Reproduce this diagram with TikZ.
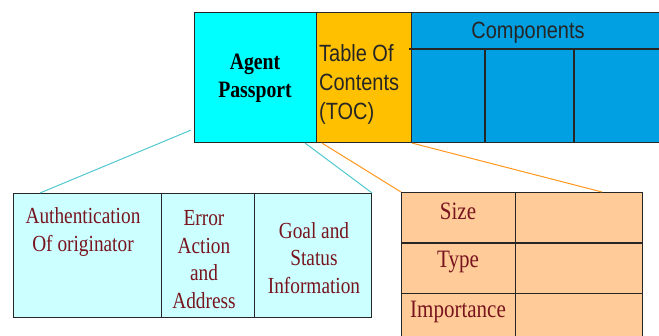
\documentclass[tikz,border=0pt]{standalone}
\usepackage{fontspec}
\setmainfont{Liberation Serif}[FakeStretch=0.84]
\setsansfont{Liberation Sans}[FakeStretch=0.85]
\usetikzlibrary{positioning}
\definecolor{passcyan}{RGB}{0,255,255}
\definecolor{tocgold}{RGB}{255,192,0}
\definecolor{compblue}{RGB}{0,160,226}
\definecolor{palecyan}{RGB}{204,255,255}
\definecolor{peach}{RGB}{255,204,153}
\definecolor{maroon}{RGB}{120,20,30}
\definecolor{linkcyan}{RGB}{80,200,205}
\definecolor{linkorange}{RGB}{255,150,30}

\begin{document}
\begin{tikzpicture}[x=1pt, y=-1pt,
		cell/.style={draw=black!85, line width=1.1pt, inner sep=0pt, anchor=north west},
		red text/.style={text=maroon, align=center, inner sep=0pt, font=\fontsize{23}{27.5}\selectfont},
		blue text/.style={text=black!85, inner sep=0pt, font=\sffamily\fontsize{23.5}{29}\selectfont},
		cyanlink/.style={draw=linkcyan, line width=1pt},
		orangelink/.style={draw=linkorange, line width=1pt}]
				\useasboundingbox (0,0) rectangle (659,336);
				\clip (0,0) rectangle (659,336);
				% passport header
				\node[cell, fill=passcyan, minimum width=122, minimum height=130] (pass) at (194,12) {};
				\node[cell, fill=tocgold, minimum width=95, minimum height=130] (toc) at (316,12) {};
				\node[cell, fill=compblue, minimum width=252, minimum height=130] (comp) at (411,12) {};
				\draw[draw=black!85, line width=1.1pt] (409,49) -- (664,49) (485,49) -- (485,142) (574,49) -- (574,142);
				\node[inner sep=0pt, font=\bfseries\fontsize{23.5}{28}\selectfont, align=center] (passtxt) at (255,78) {Agent\\Passport};
				\node[blue text, anchor=west, align=left] (toctxt) at (319,84) {Table Of\\Contents\\(TOC)};
				\node[blue text] (comptxt) at (528,33) {Components};
				% passport fields
				\node[cell, fill=palecyan, minimum width=148, minimum height=124] (auth) at (13,193) {};
				\node[cell, fill=palecyan, minimum width=93, minimum height=124] (err) at (161,193) {};
				\node[cell, fill=palecyan, minimum width=117, minimum height=124] (goal) at (254,193) {};
				\node[red text] (authtxt) at (83,232) {Authentication\\Of originator};
				\node[red text] (errtxt) at (204,259.5) {Error\\Action\\and\\Address};
				\node[red text] (goaltxt) at (314,258) {Goal and\\Status\\Information};
				% toc entries
				\foreach \y/\t [count=\i] in {192/Size, 243/Type, 293/Importance}{
				\node[cell, fill=peach, minimum width=114, minimum height=50] (key\i) at (401,\y) {};
				\node[cell, fill=peach, minimum width=127, minimum height=50] (val\i) at (515,\y) {};
				\node[red text, font=\fontsize{25}{29}\selectfont] (lbl\i) at (458,\y+19) {\t};
				}
				% zoom lines
				\draw[cyanlink] ([xshift=-3pt, yshift=13pt]pass.south west) -- ([xshift=27pt]auth.north west);
				\draw[cyanlink] ([xshift=-12pt]pass.south east) -- (goal.north east);
				\draw[orangelink] ([xshift=6pt]toc.south west) -- (key1.north west);
				\draw[orangelink] (toc.south east) -- ([xshift=87pt]val1.north west);
\end{tikzpicture}
\end{document}
